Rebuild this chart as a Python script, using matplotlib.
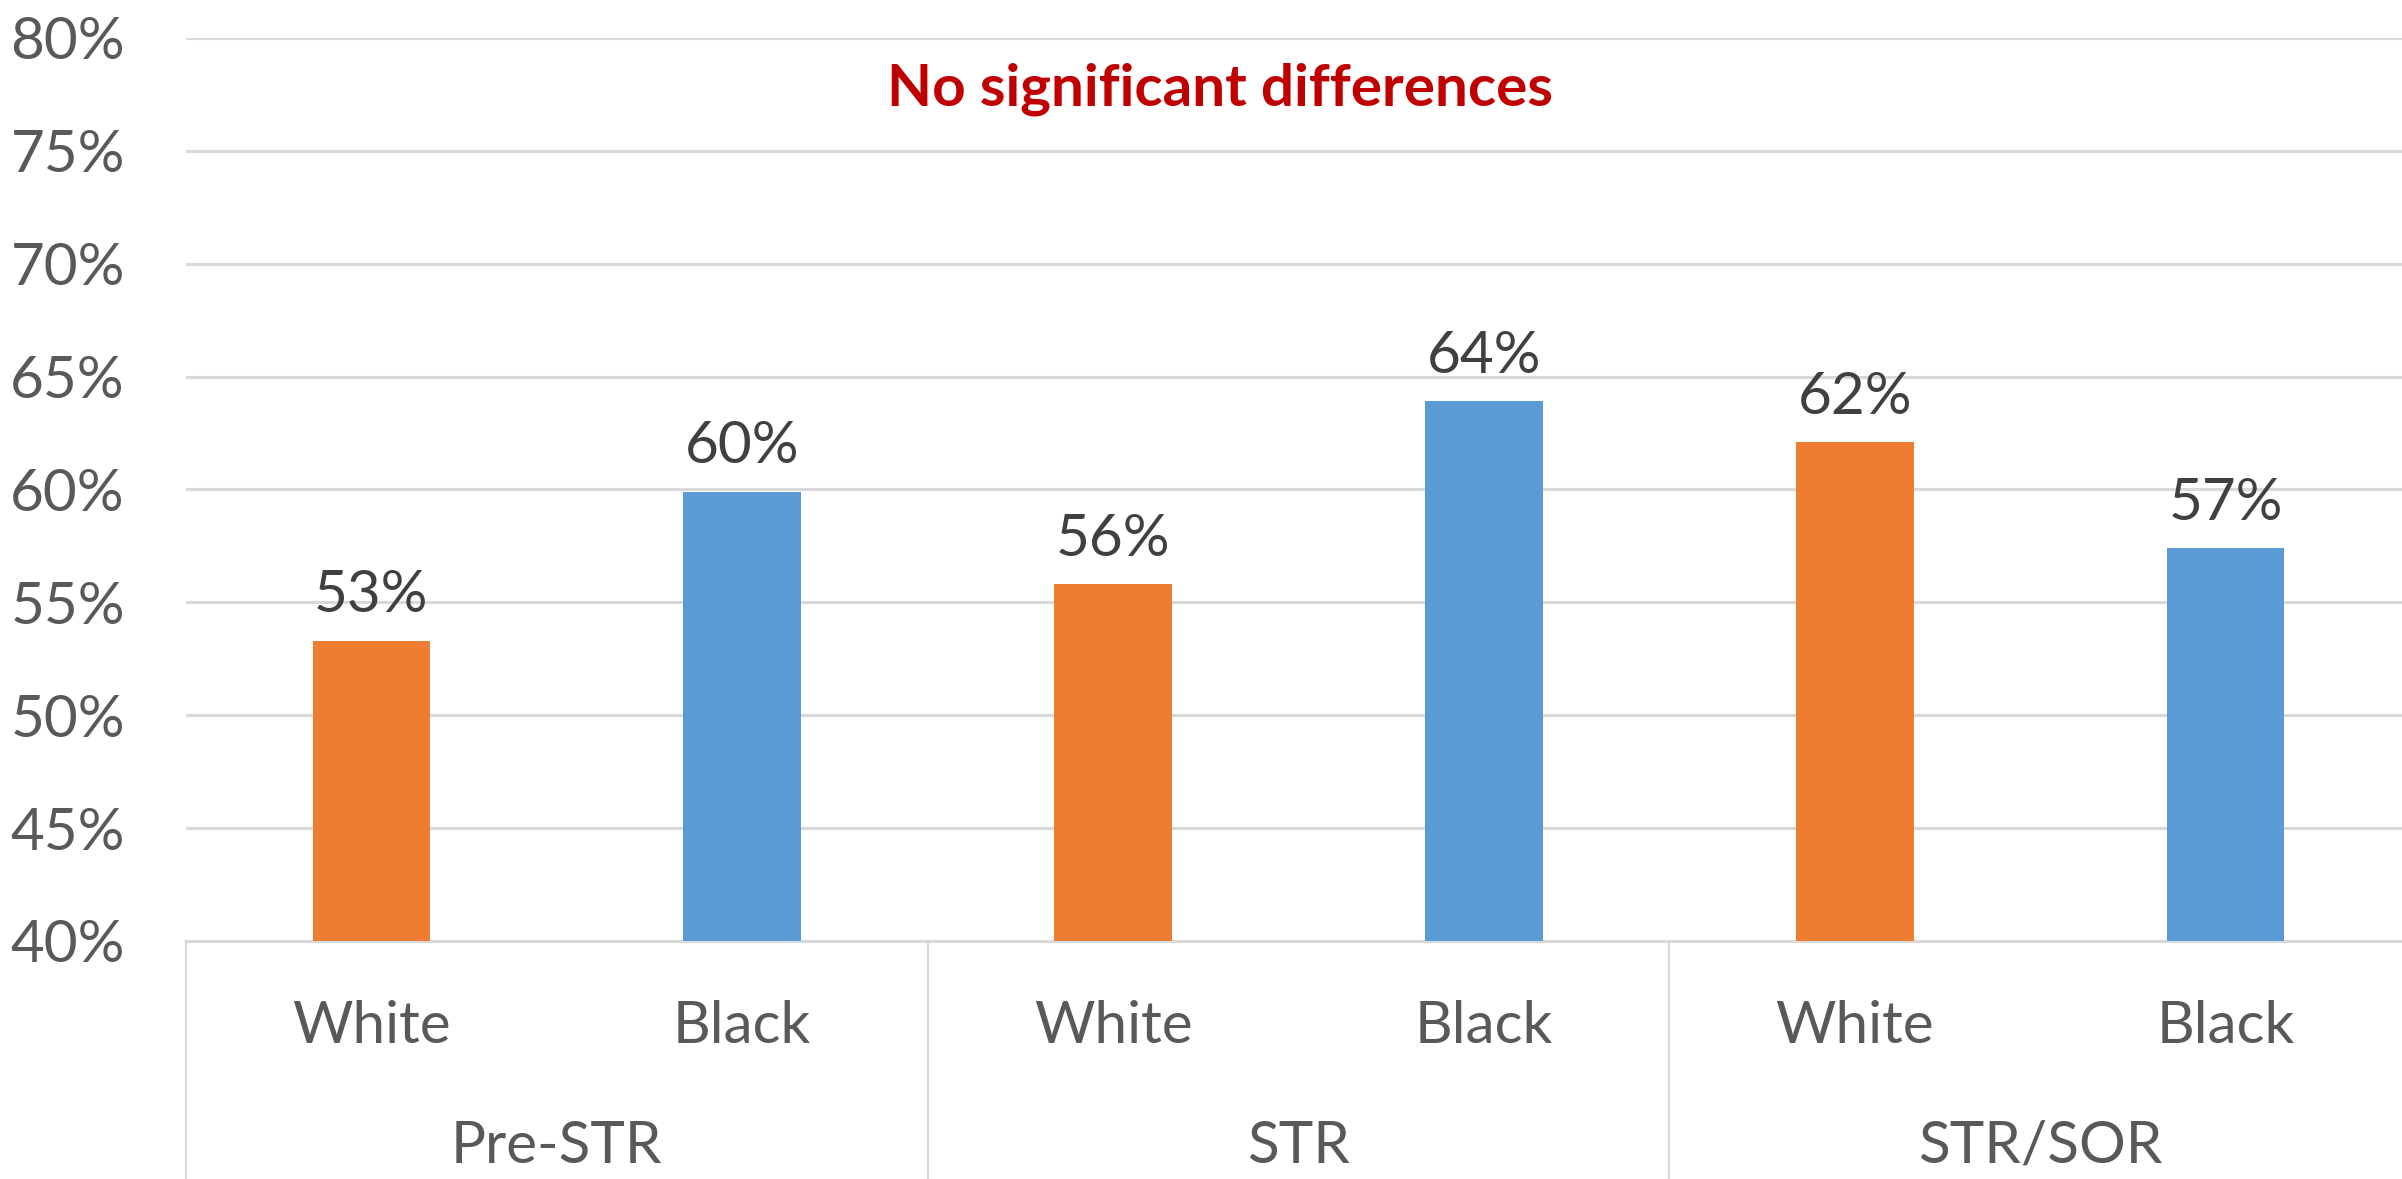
import matplotlib
matplotlib.use("Agg")
import matplotlib.pyplot as plt

# Share of respondents by period and race
periods = ["Pre-STR", "STR", "STR/SOR"]
races = ["White", "Black"]
white_pct = [53.3, 55.8, 62.1]
black_pct = [59.9, 63.9, 57.4]
y_ticks = [40, 45, 50, 55, 60, 65, 70, 75, 80]
note = "No significant differences"

ORANGE = "#ED7D31"
BLUE = "#5B9BD5"
GRID = "#D9D9D9"
TICK_COLOR = "#595959"
LABEL_COLOR = "#404040"

plt.rcParams["font.family"] = ["Lato", "DejaVu Sans"]

W, H = 2402, 1179
fig = plt.figure(figsize=(W / 100, H / 100), dpi=100)
# plot area runs slightly past the right edge of the canvas
ax = fig.add_axes([186 / W, 1 - 941 / H, 2225 / W, (941 - 38) / H])

# interleave White/Black within each period
positions, values, colors, cat_labels = [], [], [], []
for i, p in enumerate(periods):
    for j, r in enumerate(races):
        positions.append(2 * i + j + 0.5)
        values.append(white_pct[i] if r == "White" else black_pct[i])
        colors.append(ORANGE if r == "White" else BLUE)
        cat_labels.append(r)

base = y_ticks[0]
bars = ax.bar(positions, [v - base for v in values], bottom=base,
              width=0.317, color=colors, zorder=3)

for x, v in zip(positions, values):
    ax.annotate(f"{v:.0f}%", (x, v), xytext=(0, 20.5), textcoords="offset points",
                ha="center", va="baseline", fontsize=42, color=LABEL_COLOR)

ax.set_xlim(0, 2 * len(periods))
ax.set_ylim(y_ticks[0], y_ticks[-1])
ax.set_yticks(y_ticks)
ax.set_yticklabels([f"{t}%" for t in y_ticks])
ax.tick_params(axis="y", length=0, pad=44, labelsize=42, labelcolor=TICK_COLOR)
ax.set_xticks([])
ax.yaxis.grid(True, color=GRID, linewidth=2.2, zorder=0)
for s in ["top", "right", "left"]:
    ax.spines[s].set_visible(False)
ax.spines["bottom"].set_color(GRID)
ax.spines["bottom"].set_linewidth(2.2)

# two-level category axis
xt = ax.get_xaxis_transform()
for x, lab in zip(positions, cat_labels):
    ax.text(x, -0.113, lab, transform=xt, ha="center", va="baseline",
            fontsize=42, color=TICK_COLOR)
for i, p in enumerate(periods):
    ax.text(2 * i + 1, -0.2458, p, transform=xt, ha="center", va="baseline",
            fontsize=42, color=TICK_COLOR)
    ax.plot([2 * i, 2 * i], [0, -0.4], transform=xt, color=GRID,
            linewidth=1.6, clip_on=False)

ax.text(0.4647, 0.9258, note, transform=ax.transAxes, ha="center",
        va="baseline", fontsize=42, fontweight="bold", color="#C00000")

fig.savefig("out.png", dpi=100, facecolor="white")
